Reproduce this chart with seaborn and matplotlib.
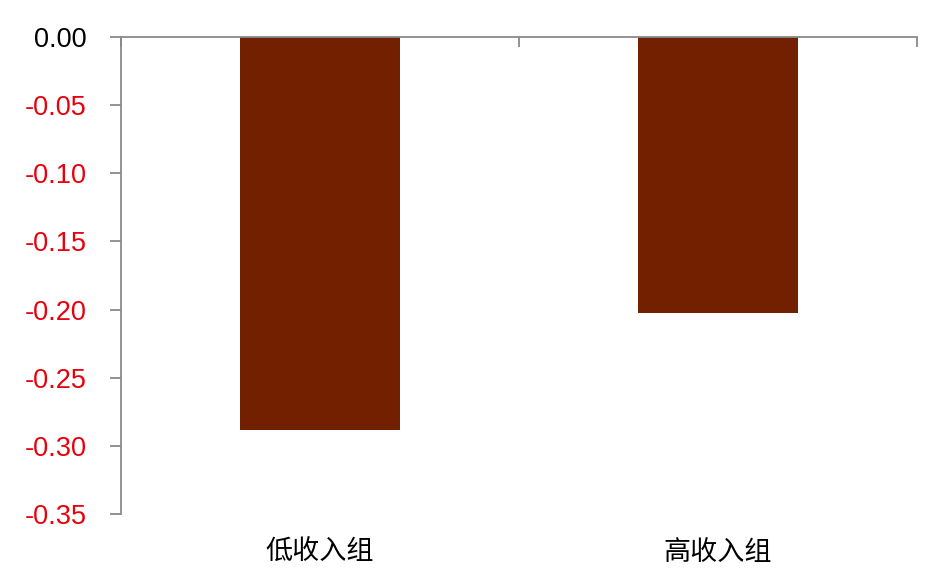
import numpy as np
import pandas as pd
import seaborn as sns
import matplotlib
matplotlib.use("Agg")
import matplotlib.pyplot as plt
from matplotlib.ticker import FixedLocator

# data
groups = ["低收入组", "高收入组"]
values = [-0.288, -0.2025]
y_ticks = [0.00, -0.05, -0.10, -0.15, -0.20, -0.25, -0.30, -0.35]

df = pd.DataFrame({"group": groups, "value": values})

sns.set_theme(style="white")
plt.rcParams["font.family"] = ["Liberation Sans", "Noto Sans CJK SC", "DejaVu Sans"]

fig = plt.figure(figsize=(9.42, 5.79), dpi=100)
ax = fig.add_axes([121 / 942, 1 - 514 / 579, (917 - 121) / 942, (514 - 37) / 579])

sns.barplot(data=df, x="group", y="value", color="#722000", saturation=1,
            width=0.4, ax=ax, edgecolor="none")

ax.set_xlim(-0.5, 1.5)
ax.set_ylim(-0.35, 0)
ax.set_xlabel("")
ax.set_ylabel("")

axis_grey = "#8a8a8a"
for side in ["bottom", "right"]:
    ax.spines[side].set_visible(False)
for side in ["top", "left"]:
    ax.spines[side].set_visible(True)
    ax.spines[side].set_color(axis_grey)
    ax.spines[side].set_linewidth(1.3)

# y axis
ax.set_yticks(y_ticks)
ax.set_yticklabels(["%.2f" % v for v in y_ticks])
ax.tick_params(axis="y", which="major", left=True, direction="out", length=8,
               width=1.3, color=axis_grey, labelsize=19.5, pad=17)
for lab, v in zip(ax.get_yticklabels(), y_ticks):
    lab.set_color("black" if v == 0 else "#e8000b")

# x axis: labels at the bottom, marks on the top line between categories
ax.xaxis.set_minor_locator(FixedLocator([-0.5, 0.5, 1.5]))
ax.tick_params(axis="x", which="major", bottom=True, top=False, length=0,
               labelsize=19.5, pad=18, labelcolor="black")
ax.tick_params(axis="x", which="minor", bottom=False, top=True, direction="in",
               length=7, width=1.3, color=axis_grey)
for lab in ax.get_xticklabels():
    lab.set_fontfamily(["Noto Sans CJK SC", "DejaVu Sans"])

fig.savefig("out.png", dpi=100, facecolor="white")
